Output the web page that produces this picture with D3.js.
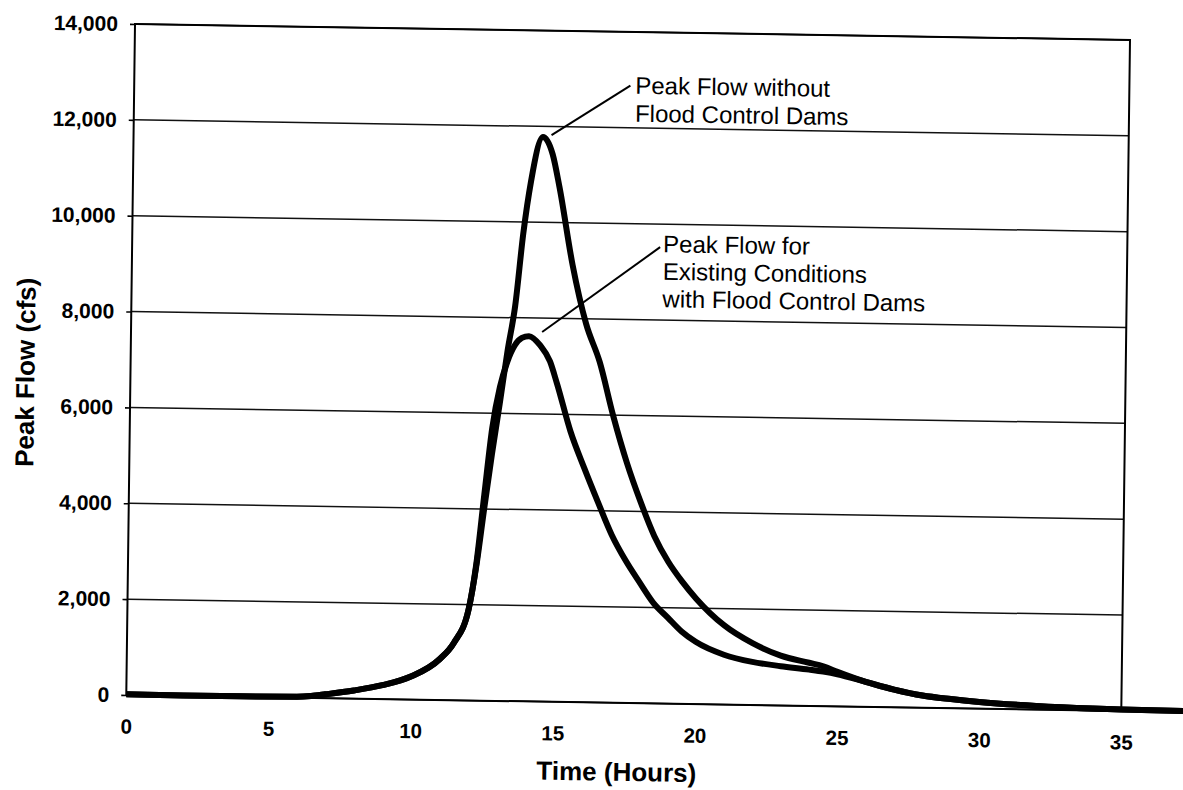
<!DOCTYPE html>
<html>
<head>
<meta charset="utf-8">
<script src="https://cdn.jsdelivr.net/npm/d3@7"></script>
<style>
  body { margin: 0; background: #fff; }
  text { font-family: "Liberation Sans", Arial, sans-serif; }
</style>
</head>
<body>
<div class="chart"></div>
<script>
var hours = [0, 2, 4, 6, 6.5, 7, 8, 9, 10, 11, 11.5, 12, 12.25, 12.5, 12.75, 13, 13.25, 13.5, 13.75, 14,
  14.4, 14.75, 15, 15.5, 16, 16.5, 17, 17.5, 18, 18.5, 19, 19.5, 20, 21, 22, 23, 24, 24.5, 25, 26,
  27, 28, 29, 30, 32, 34, 35, 37.5];
var flowWithout = [15, 10, 10, 20, 40, 80, 170, 290, 480, 850, 1200, 1900, 2800, 4000, 5150, 6200, 7300, 8250, 9750, 10850,
  11780, 11420, 10750, 9120, 7900, 7100, 5980, 5010, 4200, 3490, 2960, 2550, 2200, 1650, 1290, 1040, 900, 830, 720, 520,
  370, 255, 190, 140, 75, 40, 30, 20];
var flowWith = [15, 10, 10, 20, 40, 80, 170, 290, 480, 850, 1200, 1900, 2850, 4300, 5700, 6550, 7080, 7420, 7580, 7620,
  7430, 7100, 6650, 5650, 4890, 4180, 3500, 2970, 2520, 2093, 1800, 1510, 1300, 1040, 900, 820, 757, 720, 670, 520,
  370, 255, 190, 140, 75, 40, 30, 20];

var xTicks = [0, 5, 10, 15, 20, 25, 30, 35];
var yTicks = [0, 2000, 4000, 6000, 8000, 10000, 12000, 14000];

var noteWithout = ['Peak Flow without', 'Flood Control Dams'];
var noteWith = ['Peak Flow for', 'Existing Conditions', 'with Flood Control Dams'];
// leader lines: [hour, flow] start and end
var leaderWithout = [[14.7, 11820], [17.45, 12880]];
var leaderWith = [[14.46, 7710], [18.57, 9520]];

var width = 1183;
var height = 790;
var plotW = 995;
var plotH = 671;

var svg = d3.select('.chart')
  .append('svg')
  .attr('width', width)
  .attr('height', height);

// the scan is slightly skewed, so the whole page is drawn in a sheared frame
var g = svg.append('g')
  .attr('transform', 'matrix(1, 0.016, -0.013, 1, 135, 24)');

var x = d3.scaleLinear().domain([0, 35]).range([0, plotW]);
var y = d3.scaleLinear().domain([0, 14000]).range([plotH, 0]);

/// gridlines
g.selectAll('.grid')
  .data(yTicks)
  .enter().append('line')
  .attr('class', 'grid')
  .attr('x1', 0)
  .attr('x2', plotW)
  .attr('y1', function(d){ return y(d); })
  .attr('y2', function(d){ return y(d); })
  .attr('stroke', '#111')
  .attr('stroke-width', 1.5);

/// frame
g.append('rect')
  .attr('x', 0)
  .attr('y', 0)
  .attr('width', plotW)
  .attr('height', plotH)
  .attr('fill', 'none')
  .attr('stroke', '#000')
  .attr('stroke-width', 2);

/// axes
var yAxis = g.append('g')
  .call(d3.axisLeft(y).tickValues(yTicks).tickFormat(d3.format(',')).tickSize(5).tickPadding(12));
yAxis.select('.domain').remove();
yAxis.selectAll('line').attr('stroke', '#000').attr('stroke-width', 1.6);
yAxis.selectAll('text')
  .attr('font-family', '"Liberation Sans", Arial, sans-serif')
  .attr('font-size', '21px')
  .attr('font-weight', 'bold')
  .attr('fill', '#000');

var xAxis = g.append('g')
  .attr('transform', 'translate(0,' + plotH + ')')
  .call(d3.axisBottom(x).tickValues(xTicks).tickSize(0).tickPadding(24));
xAxis.select('.domain').remove();
xAxis.selectAll('text')
  .attr('font-family', '"Liberation Sans", Arial, sans-serif')
  .attr('font-size', '20.5px')
  .attr('font-weight', 'bold')
  .attr('fill', '#000');

/// axis titles
g.append('text')
  .attr('x', 491)
  .attr('y', 749)
  .attr('text-anchor', 'middle')
  .attr('font-size', '26px')
  .attr('font-weight', 'bold')
  .text('Time (Hours)');

g.append('text')
  .attr('transform', 'translate(-96,350) rotate(-90)')
  .attr('text-anchor', 'middle')
  .attr('font-size', '26px')
  .attr('font-weight', 'bold')
  .text('Peak Flow (cfs)');

/// hydrographs
var line = d3.line()
  .x(function(d){ return x(d[0]); })
  .y(function(d){ return y(d[1]); })
  .curve(d3.curveMonotoneX);

var series = [d3.zip(hours, flowWith), d3.zip(hours, flowWithout)];

g.selectAll('.flow')
  .data(series)
  .enter().append('path')
  .attr('class', 'flow')
  .attr('d', line)
  .attr('fill', 'none')
  .attr('stroke', '#000')
  .attr('stroke-width', 6)
  .attr('stroke-linejoin', 'round');

/// annotations
function note(leader, lines, dx, dy, lh) {
  g.append('line')
    .attr('x1', x(leader[0][0]))
    .attr('y1', y(leader[0][1]))
    .attr('x2', x(leader[1][0]))
    .attr('y2', y(leader[1][1]))
    .attr('stroke', '#000')
    .attr('stroke-width', 2);

  var t = g.append('text')
    .attr('font-size', '24px')
    .attr('fill', '#000');

  t.selectAll('tspan')
    .data(lines)
    .enter().append('tspan')
    .attr('x', x(leader[1][0]) + dx)
    .attr('y', function(d, i){ return y(leader[1][1]) + dy + i * lh; })
    .text(function(d){ return d; });
}

note(leaderWithout, noteWithout, 5, 8, 28);
note(leaderWith, noteWith, 3, 5, 27.5);
</script>
</body>
</html>
